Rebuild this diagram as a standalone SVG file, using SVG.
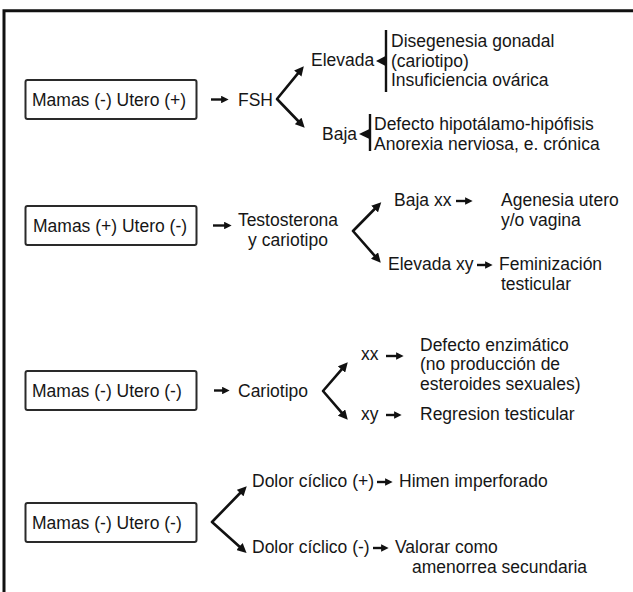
<svg xmlns="http://www.w3.org/2000/svg" width="633" height="592" viewBox="0 0 633 592">
<style>
text{font-family:"Liberation Sans",Arial,sans-serif;font-size:17.5px;fill:#161616}
.box{fill:#fff;stroke:#2a2a2a;stroke-width:2}
.br{fill:none;stroke:#111;stroke-width:2.6;stroke-linejoin:round;marker-start:url(#ah);marker-end:url(#ah)}
.ar{stroke:#111;stroke-width:2.4;marker-end:url(#sh)}
.bar{stroke:#111;stroke-width:2.4}
.tri{fill:#111}
.mid{text-anchor:middle}
</style>
<defs>
<marker id="ah" viewBox="0 0 10 10" refX="3" refY="5" markerWidth="10" markerHeight="9.5" orient="auto-start-reverse" markerUnits="userSpaceOnUse"><path d="M0,0 L10,5 L0,10 z" fill="#111"/></marker>
<marker id="sh" viewBox="0 0 8 8" refX="2" refY="4" markerWidth="8" markerHeight="7.5" orient="auto" markerUnits="userSpaceOnUse"><path d="M0,0 L8,4 L0,8 z" fill="#111"/></marker>
</defs>
<rect width="633" height="592" fill="#fff"/>
<path d="M4,592 V10.7 H633" fill="none" stroke="#111" stroke-width="3"/>

<g id="connectors">
<line class="ar" x1="211" y1="99.5" x2="223" y2="99.5"/>
<path class="br" d="M299.6,71.4 L277,99 L300.1,123"/>
<line class="bar" x1="386" y1="30" x2="386" y2="92"/>
<polygon class="tri" points="376,61 385.5,56 385.5,66"/>
<line class="bar" x1="370" y1="114" x2="370" y2="151"/>
<polygon class="tri" points="359,134 369.5,129 369.5,139"/>

<line class="ar" x1="213" y1="225.5" x2="226" y2="225.5"/>
<path class="br" d="M376.6,207 L353,231 L376.4,257.7"/>
<line class="ar" x1="456" y1="201" x2="467" y2="201"/>
<line class="ar" x1="477" y1="265" x2="487" y2="265"/>

<line class="ar" x1="214" y1="390.5" x2="224" y2="390.5"/>
<path class="br" d="M343.4,367.3 L323,391 L343.4,414.7"/>
<line class="ar" x1="386" y1="356" x2="398" y2="356"/>
<line class="ar" x1="386" y1="415" x2="396" y2="415"/>

<path class="br" d="M242.1,491 L212,522 L241.6,548.5"/>
<line class="ar" x1="377" y1="482" x2="387" y2="482"/>
<line class="ar" x1="373" y1="548" x2="383" y2="548"/>
</g>

<g id="n1"><rect class="box" x="25.5" y="80" width="171" height="39" rx="2"/><text x="32" y="106">Mamas (-) Utero (+)</text></g>
<g id="n1-fsh"><text x="238" y="106">FSH</text></g>
<g id="n1-elevada"><text x="311" y="66">Elevada</text></g>
<g id="n1-elevada-res"><text x="391" y="47">Disegenesia gonadal<tspan x="391" dy="19.7">(cariotipo)</tspan><tspan x="391" dy="19.7">Insuficiencia ovárica</tspan></text></g>
<g id="n1-baja"><text x="322" y="140">Baja</text></g>
<g id="n1-baja-res"><text x="374" y="130">Defecto hipotálamo-hipófisis<tspan x="374" dy="19.7">Anorexia nerviosa, e. crónica</tspan></text></g>

<g id="n2"><rect class="box" x="25.5" y="206" width="171" height="39" rx="2"/><text x="33" y="232">Mamas (+) Utero (-)</text></g>
<g id="n2-test"><text class="mid" x="288" y="226">Testosterona<tspan x="288" dy="19.7">y cariotipo</tspan></text></g>
<g id="n2-baja"><text x="394" y="206">Baja xx</text></g>
<g id="n2-agenesia"><text x="501" y="206">Agenesia utero<tspan x="501" dy="19.7">y/o vagina</tspan></text></g>
<g id="n2-elevada"><text x="388" y="270">Elevada xy</text></g>
<g id="n2-feminizacion"><text x="499" y="270">Feminización<tspan x="501" dy="19.7">testicular</tspan></text></g>

<g id="n3"><rect class="box" x="25.5" y="371" width="171" height="39" rx="2"/><text x="32" y="397">Mamas (-) Utero (-)</text></g>
<g id="n3-cariotipo"><text x="238" y="397">Cariotipo</text></g>
<g id="n3-xx"><text x="361" y="360">xx</text></g>
<g id="n3-defecto"><text x="420" y="350.5">Defecto enzimático<tspan x="420" dy="19.7">(no producción de</tspan><tspan x="420" dy="19.7">esteroides sexuales)</tspan></text></g>
<g id="n3-xy"><text x="361" y="420">xy</text></g>
<g id="n3-regresion"><text x="420" y="420">Regresion testicular</text></g>

<g id="n4"><rect class="box" x="25.5" y="503" width="171" height="39" rx="2"/><text x="32" y="529">Mamas (-) Utero (-)</text></g>
<g id="n4-dolor-pos"><text x="252" y="487">Dolor cíclico (+)</text></g>
<g id="n4-himen"><text x="399" y="487">Himen imperforado</text></g>
<g id="n4-dolor-neg"><text x="252" y="553">Dolor cíclico (-)</text></g>
<g id="n4-valorar"><text x="395" y="553">Valorar como<tspan x="412" dy="19.7">amenorrea secundaria</tspan></text></g>
</svg>
